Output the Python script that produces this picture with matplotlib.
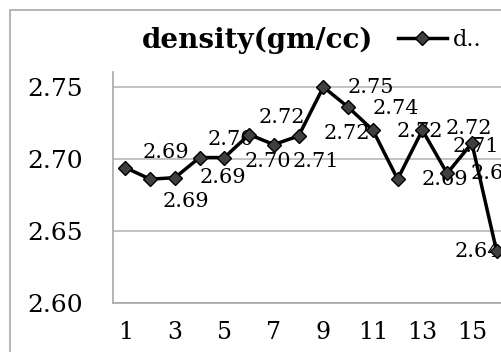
import matplotlib
matplotlib.use("Agg")
import matplotlib.pyplot as plt
from matplotlib.patches import Rectangle

# values
samples = list(range(1, 17))
density = [2.694, 2.686, 2.687, 2.701, 2.701, 2.717, 2.710, 2.716,
           2.750, 2.736, 2.720, 2.686, 2.720, 2.690, 2.711, 2.636]
y_ticks = [2.60, 2.65, 2.70, 2.75]
x_ticks = [1, 3, 5, 7, 9, 11, 13, 15]

# where each data label sits relative to its point (pixels)
label_offsets = [(41, 15), (36, -22), (48, 0), (31, 18), (43, -4), (33, 17),
                 (42, -17), (48, 2), (47, -1), (48, -1), (47, -1), (47, 0),
                 (46, 2), (47, 0), (4, -3), (-19, 0)]

serif = "DejaVu Serif"

fig = plt.figure(figsize=(5.01, 3.52), dpi=100)

# outer chart frame
fig.patches.append(Rectangle((10 / 501, -0.1), 1.2, 1.1 - 10 / 352,
                             transform=fig.transFigure, fill=False,
                             edgecolor="#a8a8a8", linewidth=1.2))

ax = fig.add_axes([113 / 501, 49 / 352, 396 / 501, 231 / 352])
ax.set_xlim(0.5, 16.5)
ax.set_ylim(2.60, 2.7604)

ax.plot(samples, density, color="black", linewidth=2.5, marker="D",
        markersize=6.8, markerfacecolor="#3f3f3f", markeredgecolor="black",
        markeredgewidth=1, zorder=4, clip_on=False)

for x, v, (dx, dy) in zip(samples, density, label_offsets):
    ax.annotate(f"{v:.2f}", (x, v), xytext=(dx, dy), textcoords="offset pixels",
                ha="center", va="center", fontsize=15, family=serif,
                color="black", zorder=3, annotation_clip=False)

ax.set_yticks(y_ticks)
ax.set_yticklabels([f"{t:.2f}" for t in y_ticks])
ax.set_xticks(x_ticks)
ax.tick_params(length=0)
ax.tick_params(axis="y", pad=22, labelsize=18)
ax.tick_params(axis="x", pad=13, labelsize=17)
for lab in ax.get_xticklabels() + ax.get_yticklabels():
    lab.set_family(serif)

ax.grid(axis="y", color="#b8b8b8", linewidth=1.2)
ax.set_axisbelow(True)
for side in ["top", "right"]:
    ax.spines[side].set_visible(False)
for side in ["left", "bottom"]:
    ax.spines[side].set_color("#a8a8a8")
    ax.spines[side].set_linewidth(1.2)

fig.text(258 / 501, 1 - 48 / 352, "density(gm/cc)", fontsize=20,
         fontweight="bold", family=serif, ha="center", va="baseline")

line, = ax.plot([], [], color="black", linewidth=2.5, marker="D",
                markersize=6.8, markerfacecolor="#3f3f3f",
                markeredgecolor="black", markeredgewidth=1)
fig.legend([line], ["d.."], loc="center left",
           bbox_to_anchor=(398 / 501, 1 - 40 / 352), frameon=False,
           borderpad=0, borderaxespad=0, handlelength=2.2,
           handletextpad=0.25, prop={"family": serif, "size": 16})

fig.savefig("out.png", dpi=100)
